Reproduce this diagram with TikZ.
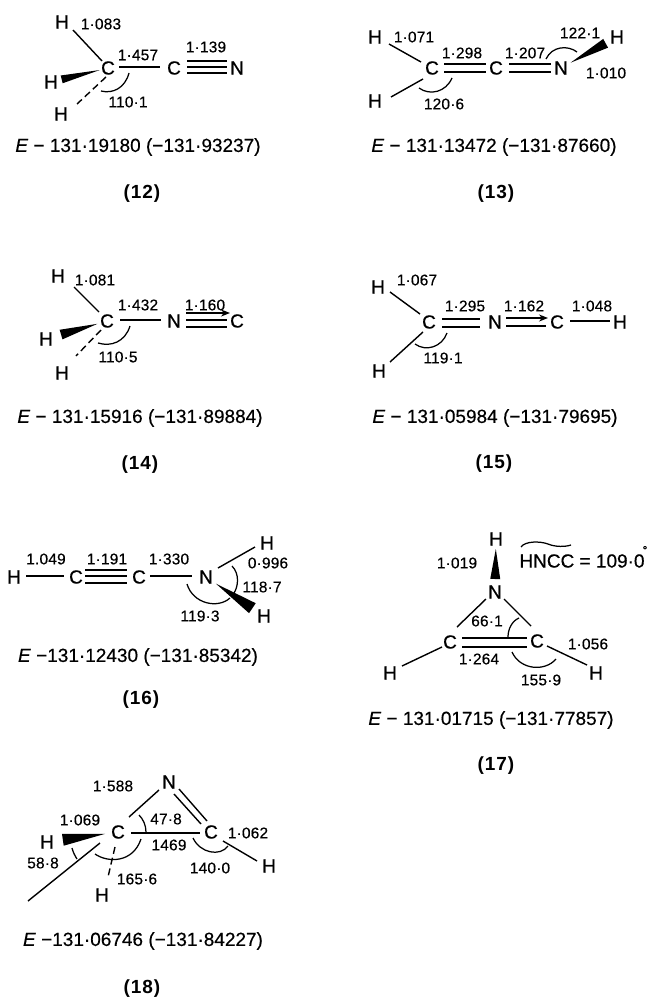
\documentclass[tikz,border=0pt]{standalone}
\usepackage{fontspec}
\usetikzlibrary{calc,arrows.meta}
\setmainfont{Liberation Sans}
\newfontfamily\atomfam[FakeBold=0.5]{Liberation Sans}
\newfontfamily\labfam[FakeBold=0.35,LetterSpace=1]{Liberation Sans}
\newfontfamily\enfam[FakeBold=0.35]{Liberation Sans}
\newfontfamily\numfam[LetterSpace=5]{Liberation Sans}
\newfontfamily\degfam[FakeBold=2]{Liberation Sans}
\newcommand\wedgebond[5]{%
  \coordinate (wt) at ($(#1.center)!#3pt!(#2.center)$);
  \coordinate (wb) at ($(#2.center)!#4pt!(#1.center)$);
  \fill (wt) -- ($(wb)!#5pt!90:(wt)$) -- ($(wb)!#5pt!-90:(wt)$) -- cycle;}
\tikzset{
  atom/.style={inner sep=0pt,font=\fontsize{19}{20}\selectfont\atomfam},
  lab/.style={inner sep=0pt,font=\fontsize{15.5}{17}\selectfont\labfam},
  enline/.style={inner sep=0pt,font=\fontsize{19}{21}\selectfont\enfam},
  num/.style={inner sep=0pt,font=\fontsize{19}{21}\selectfont\bfseries\numfam},
  bond/.style={line width=1.4pt},
  dbond/.style={line width=1.4pt,dash pattern=on 7pt off 4pt},
  dative/.style={line width=1.4pt,-{Stealth[length=9pt,width=7pt]}},
  anglearc/.style={line width=1.25pt},
}
\begin{document}
\begin{tikzpicture}[x=1pt,y=-1pt]
\useasboundingbox (0,0) rectangle (648,998);
\fill[white] (0,0) rectangle (648,998);

% ---------- 12
\node[atom] (h121) at (62,22) {H};
\node[atom] (h122) at (51,82) {H};
\node[atom] (h123) at (61,114) {H};
\node[atom] (c121) at (108,68) {C};
\node[atom] (c122) at (174,68) {C};
\node[atom] (n12) at (237,68) {N};
\node[lab] (l121) at (101,24) {1·083};
\node[lab] (l122) at (138,55) {1·457};
\node[lab] (l123) at (206,47) {1·139};
\node[lab] (l124) at (128,102) {110·1};
\node[enline] (e12) at (138,147) {\textit{E} − 131·19180 (−131·93237)};
\node[num] (t12) at (142,194) {(12)};
\draw[bond] ([shift={(-6,-7)}]c121.center) -- ([shift={(11,8)}]h121.center);
\draw[dbond] ([shift={(-2,9)}]c121.center) -- ([shift={(16,-10)}]h123.center);
\draw[bond] ([shift={(11,-1)}]c121.center) -- ([shift={(-14,-1)}]c122.center);
\draw[bond] ([shift={(13,-7)}]c122.center) -- ([shift={(-10,-7)}]n12.center);
\draw[bond] ([shift={(13,-1)}]c122.center) -- ([shift={(-10,-1)}]n12.center);
\draw[bond] ([shift={(13,5)}]c122.center) -- ([shift={(-10,5)}]n12.center);
\wedgebond{c121}{h122}{8.5}{11}{4}
\draw[anglearc] (129,73) .. controls (125,88) and (113,94) .. (101,91);

% ---------- 13
\node[atom] (h131) at (375,37) {H};
\node[atom] (h132) at (375,101) {H};
\node[atom] (h133) at (617,37) {H};
\node[atom] (c131) at (432,68) {C};
\node[atom] (c132) at (496,68) {C};
\node[atom] (n13) at (561,68) {N};
\node[lab] (l131) at (414,37) {1·071};
\node[lab] (l132) at (462,53) {1·298};
\node[lab] (l133) at (525,53) {1·207};
\node[lab] (l134) at (580,33) {122·1};
\node[lab] (l135) at (606,73) {1·010};
\node[lab] (l136) at (444,104) {120·6};
\node[enline] (e13) at (494,147) {\textit{E} − 131·13472 (−131·87660)};
\node[num] (t13) at (496,194) {(13)};
\draw[bond] ([shift={(-11,-6)}]c131.center) -- ([shift={(14,7)}]h131.center);
\draw[bond] ([shift={(-9,11)}]c131.center) -- ([shift={(16,-4)}]h132.center);
\draw[bond] ([shift={(12,-4)}]c131.center) -- ([shift={(-10,-4)}]c132.center);
\draw[bond] ([shift={(12,4)}]c131.center) -- ([shift={(-10,4)}]c132.center);
\draw[bond] ([shift={(13,-4)}]c132.center) -- ([shift={(-10,-4)}]n13.center);
\draw[bond] ([shift={(13,4)}]c132.center) -- ([shift={(-10,4)}]n13.center);
\wedgebond{n13}{h133}{11}{13}{5}
\draw[anglearc] (452,78) .. controls (446,92) and (430,96) .. (419,88);
\draw[anglearc] (546,59) .. controls (552,46) and (568,45) .. (577,52);

% ---------- 14
\node[atom] (h141) at (58,276) {H};
\node[atom] (h142) at (46,339) {H};
\node[atom] (h143) at (62,373) {H};
\node[atom] (c141) at (107,321) {C};
\node[atom] (n14) at (174,321) {N};
\node[atom] (c142) at (237,321) {C};
\node[lab] (l141) at (95,280) {1·081};
\node[lab] (l142) at (138,305) {1·432};
\node[lab] (l143) at (205,305) {1·160};
\node[lab] (l144) at (118,357) {110·5};
\node[enline] (e14) at (140,418) {\textit{E} − 131·15916 (−131·89884)};
\node[num] (t14) at (140,465) {(14)};
\draw[bond] ([shift={(-8,-9)}]c141.center) -- ([shift={(16,11)}]h141.center);
\draw[dbond] ([shift={(-6,9)}]c141.center) -- ([shift={(14,-17)}]h143.center);
\draw[bond] ([shift={(13,-1)}]c141.center) -- ([shift={(-13,-1)}]n14.center);
\draw[dative] ([shift={(12,-8)}]n14.center) -- ([shift={(-7,-8)}]c142.center);
\draw[bond] ([shift={(12,-1)}]n14.center) -- ([shift={(-10,-1)}]c142.center);
\draw[bond] ([shift={(12,6)}]n14.center) -- ([shift={(-10,6)}]c142.center);
\wedgebond{c141}{h142}{10}{15.7}{5}
\draw[anglearc] (130,326) .. controls (125,342) and (111,347) .. (98,343);

% ---------- 15
\node[atom] (h151) at (378,287) {H};
\node[atom] (h152) at (379,371) {H};
\node[atom] (c151) at (429,322) {C};
\node[atom] (n15) at (495,322) {N};
\node[atom] (c152) at (557,322) {C};
\node[atom] (h153) at (620,322) {H};
\node[lab] (l151) at (417,280) {1·067};
\node[lab] (l152) at (465,306) {1·295};
\node[lab] (l153) at (524,306) {1·162};
\node[lab] (l154) at (592,306) {1·048};
\node[lab] (l155) at (443,358) {119·1};
\node[enline] (e15) at (495,418) {\textit{E} − 131·05984 (−131·79695)};
\node[num] (t15) at (494,464) {(15)};
\draw[bond] ([shift={(-9,-8)}]c151.center) -- ([shift={(12,5)}]h151.center);
\draw[bond] ([shift={(-6,10)}]c151.center) -- ([shift={(11,-9)}]h152.center);
\draw[bond] ([shift={(13,-3)}]c151.center) -- ([shift={(-15,-3)}]n15.center);
\draw[bond] ([shift={(13,5)}]c151.center) -- ([shift={(-15,5)}]n15.center);
\draw[dative] ([shift={(11,-4)}]n15.center) -- ([shift={(-9,-4)}]c152.center);
\draw[bond] ([shift={(11,4)}]n15.center) -- ([shift={(-11,4)}]c152.center);
\draw[bond] ([shift={(13,-1)}]c152.center) -- ([shift={(-10,-1)}]h153.center);
\draw[anglearc] (447,333) .. controls (442,347) and (426,352) .. (415,344);

% ---------- 16
\node[atom] (h161) at (14,577) {H};
\node[atom] (c161) at (76,577) {C};
\node[atom] (c162) at (139,577) {C};
\node[atom] (n16) at (206,577) {N};
\node[atom] (h162) at (267,543) {H};
\node[atom] (h163) at (264,616) {H};
\node[lab] (l161) at (46,559) {1.049};
\node[lab] (l162) at (107,559) {1·191};
\node[lab] (l163) at (169,559) {1·330};
\node[lab] (l164) at (268,563) {0·996};
\node[lab] (l165) at (262,587) {118·7};
\node[lab] (l166) at (200,616) {119·3};
\node[enline] (e16) at (138,657) {\textit{E} −131·12430 (−131·85342)};
\node[num] (t16) at (141,700) {(16)};
\draw[bond] ([shift={(12,-1)}]h161.center) -- ([shift={(-12,-1)}]c161.center);
\draw[bond] ([shift={(9,-7)}]c161.center) -- ([shift={(-12,-7)}]c162.center);
\draw[bond] ([shift={(9,-1)}]c161.center) -- ([shift={(-12,-1)}]c162.center);
\draw[bond] ([shift={(9,6)}]c161.center) -- ([shift={(-12,6)}]c162.center);
\draw[bond] ([shift={(11,-1)}]c162.center) -- ([shift={(-14,-1)}]n16.center);
\draw[bond] ([shift={(12,-9)}]n16.center) -- ([shift={(-12,4)}]h162.center);
\wedgebond{n16}{h163}{12}{14}{6}
\draw[anglearc] (232,566) .. controls (240,574) and (238,587) .. (234,593);
\draw[anglearc] (187,584) .. controls (193,604) and (218,609) .. (230,598);

% ---------- 17
\node[atom] (h171) at (496,539) {H};
\node[atom] (n17) at (495,592) {N};
\node[atom] (c171) at (450,642) {C};
\node[atom] (c172) at (537,641) {C};
\node[atom] (h172) at (390,673) {H};
\node[atom] (h173) at (596,673) {H};
\node[lab] (l171) at (457,563) {1·019};
\node[lab] (l172) at (487,621) {66·1};
\node[lab] (l173) at (479,659) {1·264};
\node[lab] (l174) at (588,644) {1·056};
\node[lab] (l175) at (541,680) {155·9};
\node[enline] (l176) at (582,561) {HNCC = 109·0};
\node[inner sep=0pt,font=\fontsize{11}{12}\selectfont\degfam] (l177) at (645,550) {°};
\node[enline] (e17) at (491,720) {\textit{E} − 131·01715 (−131·77857)};
\node[num] (t17) at (496,766) {(17)};
\wedgebond{h171}{n17}{10}{13}{5}
\draw[bond] ([shift={(-9,7)}]n17.center) -- ([shift={(7,-15)}]c171.center);
\draw[bond] ([shift={(9,7)}]n17.center) -- ([shift={(-6,-15)}]c172.center);
\draw[bond] ([shift={(12,-4)}]c171.center) -- ([shift={(-10,-3)}]c172.center);
\draw[bond] ([shift={(12,5)}]c171.center) -- ([shift={(-10,6)}]c172.center);
\draw[bond] ([shift={(-8,5)}]c171.center) -- ([shift={(12,-7)}]h172.center);
\draw[bond] ([shift={(10,5)}]c172.center) -- ([shift={(-9,-8)}]h173.center);
\draw[anglearc] (519,618) .. controls (512,621) and (508,629) .. (508,637);
\draw[anglearc] (512,652) .. controls (520,670) and (545,672) .. (556,659);
\draw[anglearc] (521,547) .. controls (525,541) and (540,541) .. (548,544) .. controls (555,547) and (565,547) .. (571,545);

% ---------- 18
\node[atom] (n18) at (169,782) {N};
\node[atom] (c181) at (118,832) {C};
\node[atom] (c182) at (211,832) {C};
\node[atom] (h181) at (47,842) {H};
\node[atom] (h182) at (102,895) {H};
\node[atom] (h183) at (269,866) {H};
\coordinate (q18) at (28,901);
\node[lab] (l181) at (113,786) {1·588};
\node[lab] (l182) at (80,820) {1·069};
\node[lab] (l183) at (43,863) {58·8};
\node[lab] (l184) at (166,819) {47·8};
\node[lab] (l185) at (169,845) {1469};
\node[lab] (l186) at (248,833) {1·062};
\node[lab] (l187) at (137,879) {165·6};
\node[lab] (l188) at (210,868) {140·0};
\node[enline] (e18) at (143,941) {\textit{E} −131·06746 (−131·84227)};
\node[num] (t18) at (142,989) {(18)};
\draw[bond] ([shift={(11,-15)}]c181.center) -- ([shift={(-10,8)}]n18.center);
\draw[bond] ([shift={(10,7)}]n18.center) -- ([shift={(-4,-11)}]c182.center);
\draw[bond] ([shift={(5,12)}]n18.center) -- ([shift={(-10,-8)}]c182.center);
\draw[bond] ([shift={(13,1)}]c181.center) -- ([shift={(-11,1)}]c182.center);
\draw[bond] ([shift={(-18,11)}]c181.center) -- (q18);
\draw[dbond] ([shift={(-3,15)}]c181.center) -- ([shift={(6,-18)}]h182.center);
\draw[bond] ([shift={(12,9)}]c182.center) -- ([shift={(-12,-5)}]h183.center);
\wedgebond{c181}{h181}{13}{16}{6}
\draw[anglearc] (139,815) .. controls (143,819) and (146,825) .. (146,832);
\draw[anglearc] (72,848) .. controls (73,852) and (75,856) .. (77,859);
\draw[anglearc] (95,854) .. controls (108,863) and (133,863) .. (141,839);
\draw[anglearc] (193,838) .. controls (200,853) and (220,857) .. (228,846);
\end{tikzpicture}
\end{document}
